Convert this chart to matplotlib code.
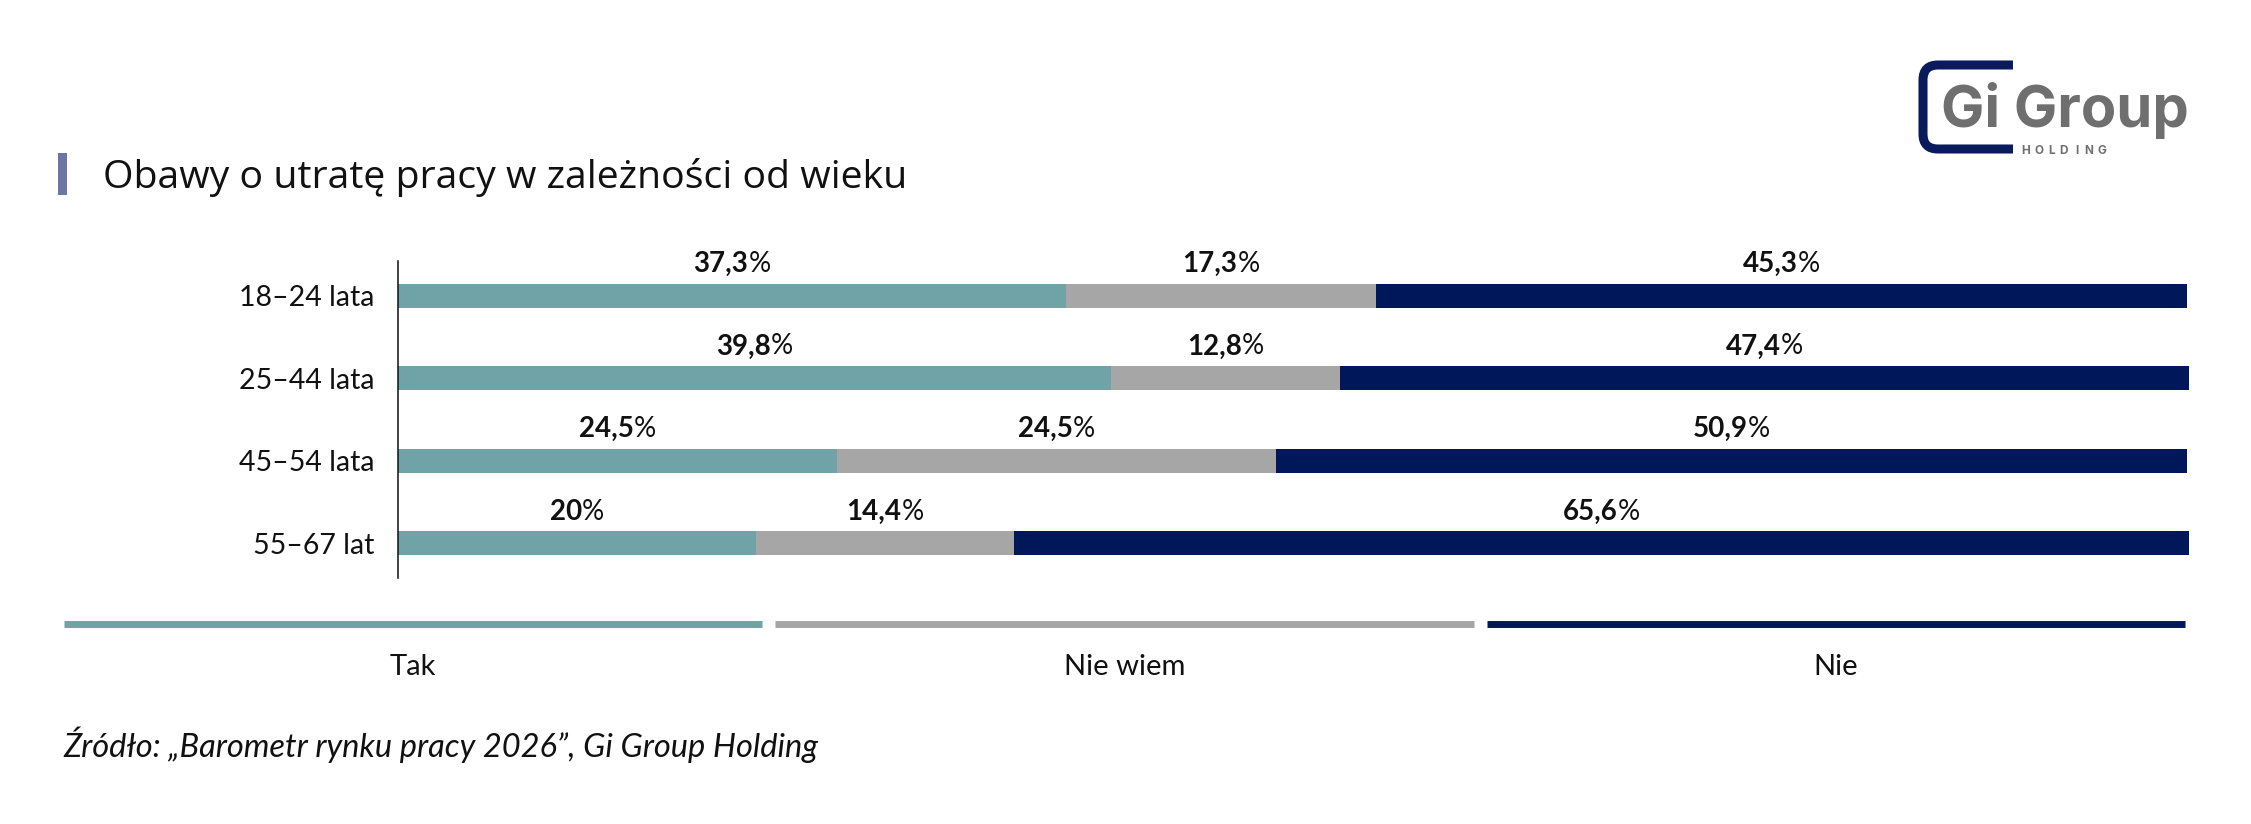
import matplotlib.pyplot as plt
from matplotlib.offsetbox import TextArea, HPacker, AnnotationBbox
from matplotlib.patches import Rectangle, PathPatch
from matplotlib.path import Path

plt.rcParams['font.family'] = ['Lato', 'DejaVu Sans']

# data
age_groups = ['18–24 lata', '25–44 lata', '45–54 lata', '55–67 lat']
series_names = ['Tak', 'Nie wiem', 'Nie']
tak = [37.3, 39.8, 24.5, 20.0]
nie_wiem = [17.3, 12.8, 24.5, 14.4]
nie = [45.3, 47.4, 50.9, 65.6]
colors = ['#6fa3a7', '#a6a6a6', '#00175a']

title = 'Obawy o utratę pracy w zależności od wieku'
source = 'Źródło: „Barometr rynku pracy 2026”, Gi Group Holding'

W, H = 2251, 824
fig = plt.figure(figsize=(W / 100, H / 100), dpi=100)


def fx(px):
    return px / W


def fy(py):
    return 1 - py / H


def fit_width(txt, target_px):
    # scale font so the text spans target_px
    r = fig.canvas.get_renderer()
    w = txt.get_window_extent(r).width
    txt.set_fontsize(txt.get_fontsize() * target_px / w)


# main chart
ax = fig.add_axes([fx(398), fy(578), 1791 / W, 317 / H])
ypos = list(range(len(age_groups)))
left = [0.0] * len(age_groups)
for vals, col in zip([tak, nie_wiem, nie], colors):
    ax.barh(ypos, vals, left=left, height=0.29, color=col)
    for i, v in enumerate(vals):
        num = f'{v:g}'.replace('.', ',')
        box = HPacker(children=[
            TextArea(num, textprops=dict(fontsize=20, fontweight='bold', color='#111111')),
            TextArea('%', textprops=dict(fontsize=20, color='#111111')),
        ], pad=0, sep=0, align='baseline')
        ab = AnnotationBbox(box, (left[i] + v / 2, i), xybox=(0, 13.5),
                            boxcoords='offset points', box_alignment=(0.5, 0),
                            frameon=False, pad=0)
        ax.add_artist(ab)
    left = [l + v for l, v in zip(left, vals)]

ax.set_xlim(0, 100)
ax.set_ylim(3.42, -0.42)
ax.set_yticks(ypos)
ax.set_yticklabels(age_groups, fontsize=20.5, color='#111111')
ax.set_xticks([])
ax.tick_params(axis='y', length=0, pad=17)
for s in ['top', 'right', 'bottom']:
    ax.spines[s].set_visible(False)
ax.spines['left'].set_linewidth(1.1)
ax.spines['left'].set_color('#111111')

# legend as coloured lines with labels below
lax = fig.add_axes([fx(57), fy(690), 2135 / W, 80 / H])
lax.set_xlim(0, 3)
lax.set_ylim(0, 1)
lax.axis('off')
g = 0.00915
for i, (name, col) in enumerate(zip(series_names, colors)):
    lax.plot([i + g, i + 1 - g], [0.831, 0.831], color=col, lw=5, solid_capstyle='butt')
    lax.text(i + 0.5, 0.1875, name, ha='center', va='baseline', fontsize=21, color='#111111')

# title with accent bar
fig.patches.append(Rectangle((fx(58), fy(195)), 9 / W, 42 / H, transform=fig.transFigure,
                             color='#6b76a3', lw=0))
t_title = fig.text(fx(103), fy(188), title, fontsize=26, color='#111111', va='baseline',
                   family=['Open Sans', 'DejaVu Sans'])
fit_width(t_title, 805)

# source
t_src = fig.text(fx(63), fy(757), source, fontsize=23, style='italic', color='#111111',
                 va='baseline')
fit_width(t_src, 758)

# logo
verts = [(2013, 65), (1938, 65), (1923, 65), (1923, 80), (1923, 134),
         (1923, 149), (1938, 149), (2013, 149)]
codes = [Path.MOVETO, Path.LINETO, Path.CURVE3, Path.CURVE3, Path.LINETO,
         Path.CURVE3, Path.CURVE3, Path.LINETO]
logo_path = Path([(fx(x), fy(y)) for x, y in verts], codes)
fig.patches.append(PathPatch(logo_path, transform=fig.transFigure, fill=False,
                             edgecolor='#0b1a5c', lw=6.5, capstyle='butt'))
t_logo = fig.text(fx(1941), fy(127), 'Gi Group', fontsize=42, fontweight='bold',
                  color='#6f6f6f', family=['Inter', 'DejaVu Sans'], va='baseline')
fit_width(t_logo, 248)
for k, ch in enumerate('HOLDING'):
    fig.text(fx(2026 + k * 12.6), fy(154), ch, fontsize=8.5, fontweight='bold', ha='center',
             color='#6f6f6f', family=['Inter', 'DejaVu Sans'], va='baseline')

fig.savefig('out.png', dpi=100, facecolor='white')
